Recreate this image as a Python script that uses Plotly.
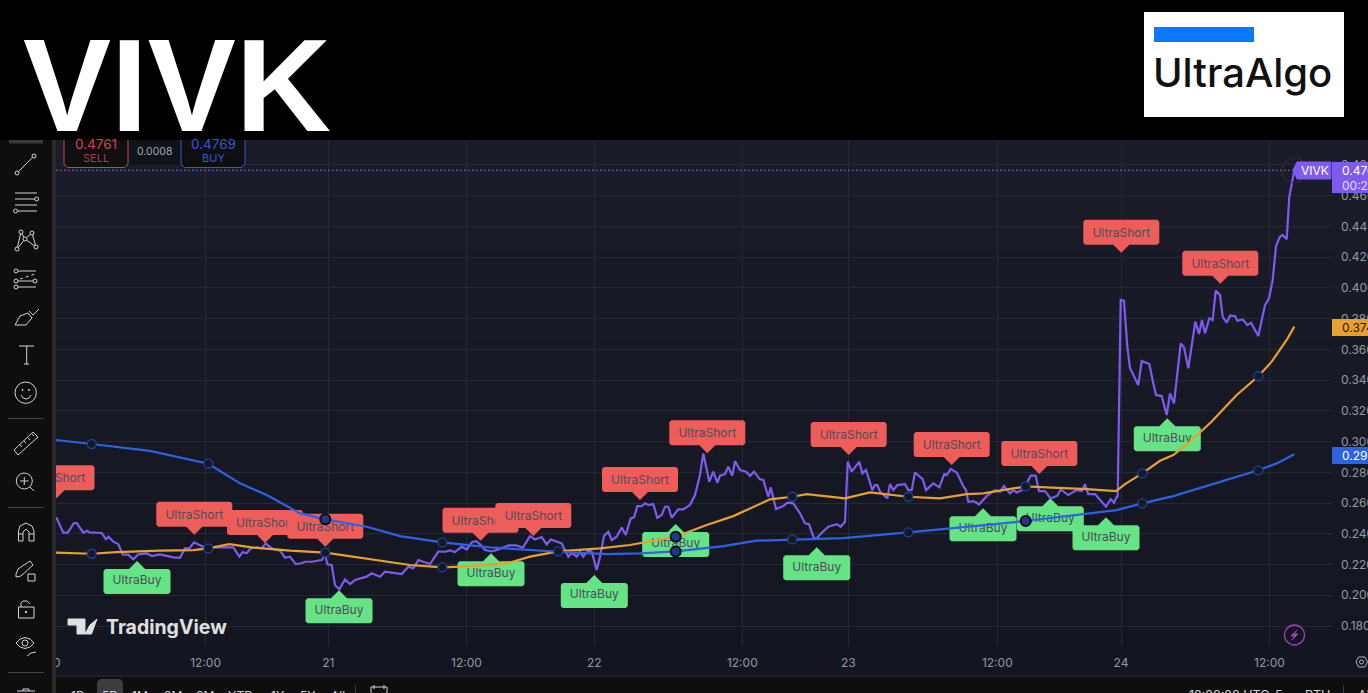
import plotly.graph_objects as go

W, H = 1368, 693
PLOT_RIGHT, PLOT_TOP, PLOT_BOTTOM = 1332, 140, 647
Y_MIN, Y_MAX = 0.16634, 0.49620
PX_PER_UNIT = (PLOT_BOTTOM - PLOT_TOP) / (Y_MAX - Y_MIN)

tick_x = [53, 205.6, 328.3, 466.5, 594.3, 742.3, 848.3, 997.3, 1121, 1269.5]
tick_text = ["20", "12:00", "21", "12:00", "22", "12:00", "23", "12:00", "24", "12:00"]

price_x = [40, 56.7, 63.3, 67.7, 74, 76.7, 83.3, 87.3, 89.3, 101.7, 106, 108.3, 113.3, 118.3, 122.7, 128.3, 133.3, 138.3,
           146.7, 151.7, 160, 173.3, 180, 185, 189.3, 194, 203.3, 208.3, 213.3, 233.3, 239.3, 242.7, 246.7, 250.7, 256.7,
           261.7, 265.7, 271.7, 280, 285, 290, 295.7, 301.7, 305, 311.7, 321.7, 325.3, 327.3, 331.7, 335, 339.3, 345, 350,
           355, 366.7, 371.7, 380, 385, 401.7, 408.3, 413.3, 418.3, 430, 438.3,
           445, 450, 455, 461.7, 466.7, 471.7, 476, 480, 485, 491.7, 498.3, 508.3, 516.7, 522.7, 530, 535, 541.7, 546.7,
           550.7, 561.7, 568.3, 571.7, 576.7, 580, 583.3, 588.3, 591.7, 596.7, 600, 604, 608.3, 611.7, 616.7, 621.7, 625.7,
           630.7, 634, 637.3, 641.7, 645, 648.3, 653.3, 657.3, 661.7, 665, 668.3, 671.7, 678.3, 683.3, 690, 695, 700, 703.3,
           709.3, 713.3, 717.3, 720, 725, 728.3, 732.3, 735, 740, 746, 750, 754, 760, 763.3, 768.3, 770.7, 776, 783.3, 787.3,
           793.3, 800, 805, 809, 814, 816.7, 821.7, 828.3, 836.7, 840.7, 845, 847.7, 851.7, 859.3, 862.3, 866, 872.3, 875,
           877.3, 880, 887.3, 890, 893.3, 897.3, 905, 908.3, 911.7, 915, 922.7, 926, 933.3, 939.3, 944.3, 946.7, 950.7,
           956.7, 963.3, 966, 968.3, 973.3, 976.7, 979, 986.7, 995, 1000, 1004, 1010, 1013.3, 1016.7, 1021.7, 1025.7, 1030.7,
           1035.7, 1039, 1045, 1050.7, 1057.3, 1060.7, 1068.3, 1076.7, 1081.7, 1085, 1088.3, 1095, 1106, 1110.7, 1114, 1116.7,
           1117.7, 1120.7, 1124, 1127.3, 1130, 1138.3, 1141.7, 1149.3, 1153.3, 1156, 1161.7, 1166.7, 1170, 1174, 1180.7, 1184,
           1188.3, 1193.3, 1195.3, 1199, 1202, 1205, 1209.3, 1212.7, 1215.7, 1220, 1222.7, 1226.7, 1230, 1235, 1237.3, 1242.7,
           1247.3, 1251, 1258.3, 1265, 1269, 1272.7, 1276, 1280, 1282.7, 1286.7, 1289.3, 1294.3]
price_y = [.2550, .2500, .2407, .2407, .2470, .2470, .2407, .2420, .2409, .2405, .2364, .2381, .2349, .2333, .2266, .2264, .2234, .2266,
           .2273, .2255, .2266, .2247, .2244, .2305, .2305, .2344, .2316, .2305, .2312, .2312, .2251, .2281, .2273, .2305,
           .2312, .2305, .2338, .2305, .2290, .2244, .2251, .2203, .2208, .2218, .2218, .2229, .2262, .2201, .2197, .2067,
           .2038, .2103, .2073, .2099, .2121, .2143, .2121, .2153, .2138, .2186, .2175, .2229, .2203, .2284,
           .2283, .2292, .2281, .2316, .2298, .2344, .2353, .2331, .2294, .2285, .2298, .2324, .2324, .2309, .2385, .2363,
           .2379, .2331, .2363, .2337, .2251, .2277, .2251, .2283, .2251, .2294, .2283, .2164, .2251, .2385, .2413, .2359,
           .2381, .2441, .2392, .2500, .2507, .2580, .2580, .2598, .2587, .2593, .2504, .2522, .2576, .2576, .2504, .2559,
           .2559, .2587, .2652, .2782, .2923, .2739, .2804, .2732, .2778, .2789, .2836, .2778, .2873, .2815, .2804, .2776,
           .2804, .2754, .2750, .2641, .2702, .2561, .2580, .2602, .2598, .2533, .2468, .2463, .2370, .2370, .2407, .2446,
           .2463, .2446, .2478, .2869, .2804, .2869, .2793, .2815, .2684, .2717, .2717, .2674, .2630, .2723, .2684, .2717,
           .2723, .2684, .2684, .2799, .2756, .2684, .2728, .2702, .2789, .2782, .2821, .2799, .2710, .2684, .2608, .2613,
           .2602, .2591, .2645, .2684, .2674, .2710, .2663, .2684, .2669, .2684, .2717, .2778, .2778, .2678, .2678, .2630,
           .2648, .2689, .2652, .2684, .2678, .2723, .2658, .2658, .2576, .2626, .2602, .2641,
           .2641, .3921, .3915, .3617, .3477, .3368, .3524, .3505, .3379, .3303, .3296, .3173, .3314, .3249, .3639, .3613,
           .3477, .3682, .3780, .3700, .3791, .3704, .3802, .3791, .3982, .3953, .3812, .3773, .3819, .3817, .3786, .3795,
           .3758, .3773, .3687, .3888, .3932, .4051, .4272, .4333, .4344, .4316, .4593, .4765]

ma_slow_x = [40, 56, 91.7, 116.7, 160, 193.3, 208.3, 229.3, 253.3, 290, 325.3, 366.7, 410, 442.3, 460, 506.7, 530, 558.3, 600, 630,
             675.7, 706.7, 733.3, 770, 792.3, 806.7, 845, 870, 908.3, 940, 966.7, 983.3, 1025.7, 1046.7, 1086.7, 1116, 1125,
             1142.3, 1160, 1173.3, 1190, 1211.7, 1236.7, 1258.3, 1271.7, 1286.7, 1294.3]
ma_slow_y = [.2277, .2277, .2270, .2281, .2290, .2294, .2305, .2333, .2310, .2290, .2277, .2240, .2197, .2182, .2186, .2207, .2251, .2286,
             .2305, .2327, .2381, .2457, .2515, .2624, .2641, .2658, .2630, .2669, .2641, .2630, .2658, .2663, .2708, .2702,
             .2691, .2678, .2723, .2793, .2875, .2912, .2999, .3130, .3303, .3425, .3520, .3661, .3748]

ma_long_x = [40, 56, 91.7, 150, 208.3, 240, 266.7, 300, 325.3, 366.7, 400, 442.3, 490, 558.3, 606.7, 640, 675.7, 723.3, 756.7, 792.3,
             843.3, 908.3, 950, 1025.7, 1116.7, 1142.3, 1173.3, 1213.3, 1258.3, 1276.7, 1294.3]
ma_long_y = [.3015, .3010, .2984, .2939, .2856, .2728, .2652, .2533, .2494, .2446, .2385, .2344, .2311, .2283, .2268, .2272, .2285, .2320,
             .2355, .2363, .2372, .2409, .2435, .2483, .2554, .2598, .2645, .2724, .2813, .2858, .2917]

ring_x = [91.7, 208.3, 325.3, 442.3, 558.3, 792.3, 908.3, 1025.7, 1142.3, 1258.3, 91.7, 208.3, 442.3, 792.3, 908.3, 1142.3, 1258.3]
ring_y = [.2270, .2305, .2277, .2182, .2286, .2641, .2641, .2708, .2793, .3425, .2984, .2856, .2344, .2363, .2409, .2598, .2813]
dark_ring_x = [325.3, 675.7, 675.7, 1025.7]
dark_ring_y = [.2494, .2381, .2285, .2483]

short_x = [56.5, 194.3, 265, 325.3, 480.5, 533.3, 640, 707.3, 848.7, 951.7, 1039.3, 1121.3, 1220.3]
short_y = [.2631, .2394, .2340, .2316, .2355, .2386, .2620, .2924, .2913, .2848, .2789, .4229, .4027]
buy_x = [137, 339, 491, 594.3, 675.7, 816.7, 983, 1050.3, 1106, 1167.3]
buy_y = [.2223, .2032, .2273, .2132, .2464, .2312, .2566, .2631, .2507, .3151]

last_price = .4765

PURPLE, ORANGE, BLUE = "#7e5bef", "#e9a02f", "#2e62e6"
RED_LABEL, GREEN_LABEL, LABEL_TEXT = "#ee5d5a", "#66e384", "#4b4e5e"
ICON = "#d1d4dc"
FONT = "Inter"


def px(x):
    return x / W


def py(y):
    return 1 - y / H


def label_trace(tip_x, tip_y, name):
    # body and pointer as one closed outline, measured in screen pixels from the tip
    short = name == "UltraShort"
    half_w = 38 if short else 33.5
    sign = 1 if short else -1
    near, far = 8, 33
    c = 2
    pts = [(0, 0), (8, near), (half_w - c, near), (half_w, near + c), (half_w, far - c), (half_w - c, far),
           (-half_w + c, far), (-half_w, far - c), (-half_w, near + c), (-half_w + c, near), (-8, near), (0, 0)]
    xs = [tip_x + a for a, b in pts]
    ys = [tip_y + sign * b / PX_PER_UNIT for a, b in pts]
    body = go.Scatter(x=xs, y=ys, mode="lines", fill="toself", line=dict(width=0),
                      fillcolor=RED_LABEL if short else GREEN_LABEL, hoverinfo="skip")
    text = go.Scatter(x=[tip_x], y=[tip_y + sign * (19 if short else 20.5) / PX_PER_UNIT], mode="text", text=[name],
                      textposition="middle center", textfont=dict(family=FONT, size=12, color=LABEL_TEXT), hoverinfo="skip")
    return [body, text]


fig = go.Figure()

fig.add_trace(go.Scatter(x=[0, price_x[-1]], y=[last_price, last_price], mode="lines",
                         line=dict(color=PURPLE, width=1.3, dash="1.5px 2.5px"), hoverinfo="skip"))

labels = [(x, y, "UltraShort") for x, y in zip(short_x, short_y)] + [(x, y, "UltraBuy") for x, y in zip(buy_x, buy_y)]
for x, y, name in sorted(labels, key=lambda l: l[0]):
    for tr in label_trace(x, y, name):
        fig.add_trace(tr)

fig.add_trace(go.Scatter(x=price_x, y=price_y, mode="lines", line=dict(color=PURPLE, width=2.2)))
fig.add_trace(go.Scatter(x=ma_slow_x, y=ma_slow_y, mode="lines", line=dict(color=ORANGE, width=2.2)))
fig.add_trace(go.Scatter(x=ma_long_x, y=ma_long_y, mode="lines", line=dict(color=BLUE, width=2.2)))
fig.add_trace(go.Scatter(x=ring_x, y=ring_y, mode="markers",
                         marker=dict(size=9, color="#151926", line=dict(color="#1f4296", width=1.3))))
fig.add_trace(go.Scatter(x=dark_ring_x, y=dark_ring_y, mode="markers",
                         marker=dict(size=10, color="#1f3a80", line=dict(color="#070b16", width=2))))
fig.add_trace(go.Scatter(x=[price_x[-1]], y=[last_price], mode="markers",
                         marker=dict(size=25, color="rgba(0,0,0,0)", line=dict(color="#3c2a36", width=1))))

shapes = []


def rect(x0, y0, x1, y1, fill, line=None, width=1, layer="above"):
    shapes.append(dict(type="rect", xref="paper", yref="paper", x0=px(x0), x1=px(x1), y0=py(y0), y1=py(y1), fillcolor=fill,
                       line=dict(color=line or fill, width=width if line else 0), layer=layer))


def poly(points, color=ICON, width=1, close=False, fill=None, dash=None):
    d = "M " + " L ".join(f"{px(x):.5f},{py(y):.5f}" for x, y in points) + (" Z" if close else "")
    shapes.append(dict(type="path", xref="paper", yref="paper", path=d, fillcolor=fill or "rgba(0,0,0,0)",
                       line=dict(color=color, width=width, dash=dash or "solid"), layer="above"))


def circ(x, y, r, color=ICON, width=1, fill=None, layer="above"):
    shapes.append(dict(type="circle", xref="paper", yref="paper", x0=px(x - r), x1=px(x + r), y0=py(y + r), y1=py(y - r),
                       fillcolor=fill or "rgba(0,0,0,0)", line=dict(color=color, width=width), layer=layer))


# pane background fades slightly towards the bottom
steps = 24
for i in range(steps):
    t = i / (steps - 1)
    c = tuple(round(a + (b - a) * t) for a, b in zip((26, 29, 41), (19, 22, 32)))
    rect(0, 140 + i * 536 / steps, W, 140 + (i + 1) * 536 / steps + 1, f"rgb{c}", layer="below")

# SELL / BUY boxes, cut by the header band
rect(128, 130, 181, 165, "#11131a")
for x0, x1, col in [(64, 128, "#d9404b"), (181, 245, "#3158d6")]:
    shapes.append(dict(type="path", xref="paper", yref="paper", layer="above", fillcolor="#0f0f11", line=dict(color=col, width=1),
                       path=f"M {px(x0)},{py(125)} L {px(x0)},{py(164)} L {px(x0 + 3.5)},{py(167.5)} L {px(x1 - 3.5)},{py(167.5)} L {px(x1)},{py(164)} L {px(x1)},{py(125)} Z"))

# header band and logo
rect(0, 0, W, 140, "#000000")
rect(1144, 12, 1344, 117, "#ffffff")
rect(1154, 27, 1254, 42, "#0a78ff")

# left toolbar
rect(0, 140, 52, H, "#0e0e0e")
rect(52, 140, 56, H, "#2b2b2d")
rect(9, 140, 43, 143.5, "#3a3a3c")
for y in [418, 507, 672]:
    rect(8, y, 44, y + 1, "#434346")
poly([(18, 172), (33, 157)])
circ(17, 173, 2)
circ(34, 156, 2)
for y, x_end in [(193, 37), (199, 35), (205, 37), (211, 37)]:
    poly([(15 if y != 211 else 17.5, y), (x_end, y)])
circ(36.7, 199, 2)
circ(15.5, 211, 2)
poly([(17, 249), (21, 232), (25, 239), (32, 233), (36, 247), (25, 239), (17, 249)])
for x, y in [(17, 249), (21, 232), (25, 239), (32, 233), (36, 247)]:
    circ(x, y, 2, fill="#0e0e0e")
for y, x0 in [(271, 18), (281, 18), (287, 18)]:
    poly([(x0, y), (36, y)])
for x, y in [(16, 271), (16, 281), (35, 281), (16, 287)]:
    circ(x, y, 2, fill="#0e0e0e")
poly([(20, 279), (35, 274)], dash="dot")
poly([(15, 325), (20, 316), (28, 313), (32, 318), (26, 325), (15, 325)])
poly([(29, 311), (33, 315), (39, 309)])
poly([(19, 346), (34, 346)])
poly([(26.7, 346), (26.7, 364)])
poly([(24, 364), (29, 364)])
circ(25.7, 392.7, 10.7)
circ(22.5, 390, 0.6, fill=ICON)
circ(29, 390, 0.6, fill=ICON)
poly([(21, 395), (23, 398), (26, 399), (29, 398), (31, 395)])
poly([(14, 450), (33, 432), (38, 437), (18, 455), (14, 450)])
for x, y in [(20, 445), (24, 441), (28, 438), (32, 434)]:
    poly([(x, y), (x + 2, y + 2)])
circ(24.3, 481, 8)
poly([(30, 487), (34, 491)])
poly([(20, 481), (28.6, 481)])
poly([(24.3, 477), (24.3, 485)])
poly([(18.5, 541), (18.5, 531), (20, 526), (26, 523), (32, 526), (34, 531), (34, 541), (29, 541), (29, 532), (26, 529), (23, 532),
      (23, 541), (18.5, 541)])
poly([(18.5, 534), (23, 534)])
poly([(29, 534), (34, 534)])
poly([(16, 574), (18, 569), (30, 561), (33, 565), (21, 576), (16, 577), (16, 574)])
rect(28, 574, 35, 581, "#0e0e0e", ICON)
rect(18.5, 607, 34, 618, "#0e0e0e", ICON)
poly([(21, 607), (21, 603), (23, 601), (27, 601), (30, 604)])
circ(26, 612, 0.8, fill=ICON)
poly([(16, 643), (20, 639), (25, 637.5), (30, 639), (34, 643), (30, 647), (25, 648.5), (20, 647), (16, 643)])
circ(25, 643, 3)
poly([(27, 656), (31, 653), (36, 652)])
poly([(17, 691), (35, 691)])
poly([(23, 691), (23, 689), (29, 689), (29, 691)])

# TradingView watermark
poly([(68, 619), (85, 619), (85, 634), (77, 634), (77, 625), (68, 625)], color="#e0e0e0", fill="#e0e0e0", close=True)
poly([(90, 625), (97, 619), (91.5, 634), (85, 634)], color="#e0e0e0", fill="#e0e0e0", close=True)

# bottom strip
rect(56, 676, W, H, "#0e0e0e")
rect(56, 675.5, W, 676.5, "#2a2c33")
shapes.append(dict(type="path", xref="paper", yref="paper", layer="above", fillcolor="#3d3d40", line=dict(width=0),
                   path=f"M {px(97)},{py(H)} L {px(97)},{py(682)} L {px(100)},{py(679)} L {px(120)},{py(679)} L {px(123)},{py(682)} L {px(123)},{py(H)} Z"))
rect(355, 685, 356, H, "#3a3a3c")
rect(1343, 685, 1344, H, "#3a3a3c")
rect(371, 687, 387, H + 4, "#0e0e0e", ICON)
poly([(374, 685), (374, 689)])
poly([(384, 685), (384, 689)])

# right side tags
rect(1332, 162, W, 193, PURPLE)
poly([(1293, 170), (1297, 162), (1331, 162), (1331, 179), (1297, 179)], color=PURPLE, fill=PURPLE, close=True)
rect(1332, 319, W, 336, ORANGE)
rect(1332, 447, W, 464, "#2f62e0")

# settings hexagon and lightning badge
poly([(1356, 662), (1358.5, 657), (1365, 657), (1367.5, 662), (1365, 667), (1358.5, 667)], color="#b2b5be", close=True)
circ(1361.5, 662, 2, color="#b2b5be")
circ(1294.5, 635, 10, color="#9c3fbf", width=1.3)
poly([(1297, 630), (1291, 636), (1295, 636), (1292, 640), (1298, 634), (1294, 634)], color="#9c3fbf", fill="#9c3fbf", close=True)

notes = []


def note(x, y, text, size, color, anchor="center", family=FONT, weight=None):
    font = dict(family=family, size=size, color=color)
    if weight:
        font["weight"] = weight
    notes.append(dict(xref="paper", yref="paper", x=px(x), y=py(y), text=text, showarrow=False, xanchor=anchor, yanchor="middle",
                      font=font))


note(21, 85, "<b>VIVK</b>", 132, "#ffffff", "left", "Liberation Sans")
note(1151, 72, "UltraAlgo", 40, "#111111", "left", weight=500)
note(96, 143.5, "0.4761", 13.5, "#d9404b")
note(96, 158, "SELL", 11, "#b8383f")
note(213, 143.5, "0.4769", 13.5, "#3158d6")
note(213, 158, "BUY", 11, "#3158d6")
note(154.5, 151.5, "0.0008", 10.5, "#a3a6ad")
note(104, 627, "<b>TradingView</b>", 19.5, "#e0e0e0", "left")
note(1298.5, 171, "VIVK", 12, "#ffffff", "left")
note(1340, 171, "0.4765", 12, "#ffffff", "left")
note(1340, 185, "00:25", 12, "#e4dcff", "left")
note(1340, 327.5, "0.3748", 12, "#1a1a1a", "left")
note(1340, 455.5, "0.2917", 12, "#ffffff", "left")
for x, t in zip([78, 110, 140, 173, 205, 240, 277, 307, 338], ["1D", "5D", "1M", "3M", "6M", "YTD", "1Y", "5Y", "All"]):
    note(x, 695.5, t, 12, "#d1d4dc")
note(1187, 695.5, "12:28:28 UTC-5", 12.5, "#d1d4dc", "left")
note(1332, 695.5, "RTH", 12.5, "#d1d4dc", "right")
note(1356, 695.5, "ADJ", 12.5, "#d1d4dc", "left")

fig.update_layout(
    width=W, height=H, margin=dict(l=0, r=0, t=0, b=0), showlegend=False, hovermode=False,
    paper_bgcolor="#131722", plot_bgcolor="rgba(0,0,0,0)",
    shapes=shapes, annotations=notes,
    xaxis=dict(domain=[0, PLOT_RIGHT / W], range=[0, PLOT_RIGHT], tickmode="array", tickvals=tick_x, ticktext=tick_text,
               automargin=False, gridcolor="#262933", gridwidth=1, zeroline=False, showline=False, ticks="", ticklabelstandoff=7,
               tickfont=dict(family=FONT, size=12, color="#9598a1")),
    yaxis=dict(domain=[py(PLOT_BOTTOM), py(PLOT_TOP)], range=[Y_MIN, Y_MAX], side="right", tick0=0, dtick=0.02, tickformat=".4f",
               automargin=False, gridcolor="#262933", gridwidth=1, zeroline=False, showline=False, ticks="", ticklabelstandoff=8,
               tickfont=dict(family=FONT, size=12, color="#9598a1")),
)

fig.write_html("out.html", config={"displayModeBar": False},
               post_script="document.body.style.margin='0';document.body.style.overflow='hidden';")
